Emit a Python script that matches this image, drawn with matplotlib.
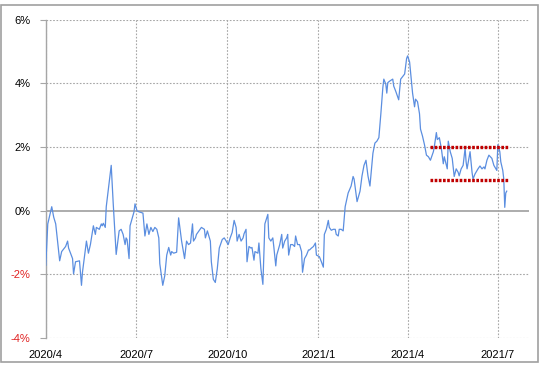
import numpy as np
import pandas as pd
import matplotlib
matplotlib.use('Agg')
import matplotlib.pyplot as plt
import matplotlib.dates as mdates
from matplotlib.patches import Rectangle

plt.rcParams['font.family'] = ['Liberation Sans', 'DejaVu Sans']

# Days since 2020/4/1 and the plotted value (%)
days = [0, 2, 6, 8, 10, 14, 16, 20, 22, 23, 27, 28, 30, 34, 36, 37, 41, 43, 45, 48,
        50, 51, 54, 56, 57, 58, 60, 61, 66, 68, 71, 74, 76, 78, 80, 81, 82, 84, 85, 89,
        90, 92, 94, 98, 100, 102, 104, 106, 108, 110, 112, 114, 115, 118, 120, 122, 124, 126, 127, 129,
        132, 134, 137, 140, 142, 144, 146, 148, 149, 151, 152, 155, 157, 160, 161, 163, 166, 167, 169, 171,
        173, 175, 178, 180, 182, 184, 186, 188, 190, 192, 193, 195, 197, 199, 200, 202, 203, 205, 207, 208,
        210, 211, 214, 215, 217, 219, 221, 224, 225, 227, 229, 230, 232, 233, 236, 238, 239, 241, 243, 244,
        245, 247, 249, 251, 252, 254, 256, 258, 259, 261, 263, 265, 266, 268, 270, 272, 273, 276, 278, 280,
        281, 283, 285, 286, 288, 290, 292, 293, 295, 296, 298, 300, 302, 305, 308, 310, 311, 314, 317, 319,
        321, 323, 325, 327, 330, 332, 334, 336, 338, 340, 341, 343, 344, 345, 347, 350, 351, 353, 356, 358,
        360, 362, 364, 365, 367, 369, 370, 372, 373, 375, 377, 378, 380, 382, 384, 386, 388, 391, 392, 394,
        395, 397, 399, 401, 402, 405, 406, 408, 410, 412, 414, 416, 417, 419, 421, 423, 424, 425, 428, 430,
        431, 433, 435, 436, 438, 440, 442, 443, 445, 447, 450, 452, 455, 456, 458, 459, 461, 462, 463, 464,
        465]
values = [-1.72, -0.42, 0.12, -0.21, -0.42, -1.58, -1.29, -1.13, -0.96, -1.18, -1.51, -1.99, -1.61, -1.58, -2.35, -1.94, -0.96, -1.34, -1.07, -0.48,
          -0.75, -0.53, -0.59, -0.42, -0.48, -0.40, -0.53, 0.12, 1.42, 0.23, -1.38, -0.64, -0.59, -0.75, -1.07, -0.86, -0.91, -1.51, -0.48, -0.04,
          0.21, -0.01, -0.04, -0.08, -0.80, -0.42, -0.75, -0.53, -0.66, -0.53, -0.59, -0.86, -1.67, -2.35, -2.05, -1.40, -1.16, -1.40, -1.29, -1.34,
          -1.31, -0.23, -0.96, -1.51, -0.96, -1.07, -1.02, -0.42, -0.96, -0.86, -0.75, -0.62, -0.53, -0.59, -0.86, -0.64, -0.96, -1.61, -2.16, -2.26,
          -1.83, -1.18, -0.91, -0.86, -0.96, -1.07, -0.86, -0.69, -0.31, -0.53, -0.96, -0.75, -0.96, -0.86, -0.73, -0.59, -1.61, -1.13, -1.18, -1.16,
          -1.56, -1.29, -1.34, -1.02, -1.83, -2.32, -0.42, -0.12, -0.86, -0.96, -0.86, -1.13, -1.74, -1.40, -1.07, -0.75, -1.18, -0.96, -0.86, -0.75,
          -1.40, -1.07, -1.07, -1.13, -0.80, -1.07, -1.07, -1.29, -1.94, -1.51, -1.40, -1.24, -1.24, -1.18, -1.13, -1.02, -1.40, -1.45, -1.61, -1.78,
          -0.75, -0.59, -0.31, -0.53, -0.62, -0.59, -0.59, -0.75, -0.80, -0.59, -0.59, -0.64, 0.12, 0.55, 0.77, 1.07, 0.99, 0.28, 0.61, 1.09,
          1.42, 1.58, 1.09, 0.77, 1.80, 2.12, 2.18, 2.29, 3.04, 3.86, 4.13, 3.97, 3.69, 4.02, 4.07, 4.13, 3.91, 3.75, 3.48, 4.13,
          4.21, 4.29, 4.78, 4.86, 4.67, 4.02, 3.69, 3.26, 3.50, 3.42, 3.04, 2.56, 2.34, 2.07, 1.74, 1.69, 1.58, 1.85, 2.02, 2.45,
          2.23, 2.29, 1.96, 1.47, 1.69, 1.31, 2.18, 1.85, 1.64, 1.07, 1.31, 1.20, 1.09, 1.31, 1.42, 1.96, 1.53, 1.31, 1.85, 1.20,
          0.99, 1.15, 1.26, 1.31, 1.40, 1.31, 1.37, 1.31, 1.58, 1.74, 1.64, 1.42, 1.26, 2.07, 1.85, 1.53, 1.26, 0.99, 0.10, 0.55,
          0.61]

# Range markers (red dotted)
band_start, band_end = '2021-04-24', '2021-07-12'
band_levels = [2.0, 0.95]

start = pd.Timestamp('2020-04-01')
dates = start + pd.to_timedelta(days, unit='D')

xticks = pd.date_range('2020-04-01', '2021-07-01', freq='QS')
yticks = [-4, -2, 0, 2, 4, 6]

fig = plt.figure(figsize=(5.4, 3.66), dpi=100)
ax = fig.add_axes([0.0848, 0.077, 0.894, 0.8694])

grid_c = '#a6a6a6'
for x in xticks:
    ax.axvline(x, color=grid_c, lw=0.8, ls=(0, (1.5, 1.5)), zorder=1)
for y in yticks:
    if y == 0:
        ax.axhline(y, color=grid_c, lw=1.3, zorder=1)
    else:
        ax.axhline(y, color=grid_c, lw=0.8, ls=(0, (1.5, 1.5)), zorder=1)

ax.plot(dates, values, color='#5b8ee0', lw=0.9, zorder=3)

for lvl in band_levels:
    ax.plot([pd.Timestamp(band_start), pd.Timestamp(band_end)], [lvl, lvl],
            color='#c00000', lw=2.4, ls=(0, (0.8, 0.45)), zorder=4)

ax.set_xlim(pd.Timestamp('2020-04-01'), pd.Timestamp('2021-08-01'))
ax.set_ylim(-4, 6)

ax.set_xticks(xticks)
ax.set_xticklabels([f'{d.year}/{d.month}' for d in xticks])
ax.set_yticks(yticks)
ax.set_yticklabels([f'{y}%' for y in yticks])
for lab, y in zip(ax.get_yticklabels(), yticks):
    lab.set_color('#e02020' if y < 0 else 'black')

ax.tick_params(axis='x', length=0, pad=9, labelsize=8)
ax.tick_params(axis='y', length=4, width=0.8, color=grid_c, pad=7, labelsize=8)

for s in ['top', 'right', 'bottom']:
    ax.spines[s].set_visible(False)
ax.spines['left'].set_color(grid_c)
ax.spines['left'].set_linewidth(1.0)

# outer frame
fig.patches.append(Rectangle((1 / 540, 1 - 362 / 366), 537 / 540, 357 / 366,
                             transform=fig.transFigure, fill=False,
                             edgecolor='#a0a0a0', lw=1.2))

fig.savefig('out.png', dpi=100)
